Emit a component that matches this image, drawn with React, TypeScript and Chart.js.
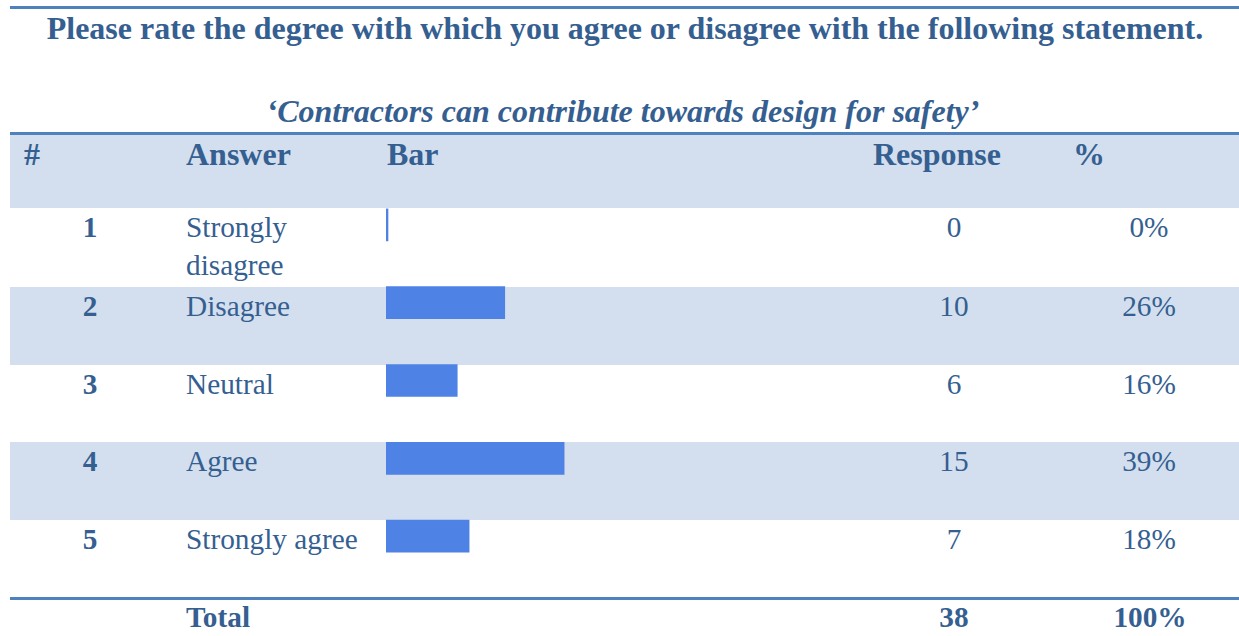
import React, { useEffect, useRef } from "react";
import { Chart, registerables } from "chart.js";

Chart.register(...registerables);

const title = "Please rate the degree with which you agree or disagree with the following statement.";
const subtitle = "\u2018Contractors can contribute towards design for safety\u2019";
const headers = ["#", "Answer", "Bar", "Response", "%"];
const ranks = ["1", "2", "3", "4", "5"];
const answers = ["Strongly disagree", "Disagree", "Neutral", "Agree", "Strongly agree"];
const responses = [0, 10, 6, 15, 7];
const percents = ["0%", "26%", "16%", "39%", "18%"];
const totalLabel = "Total";
const totalResponses = "38";
const totalPercent = "100%";

const TEXT = "#365F91";
const LINE = "#4F81BD";
const BAND = "#D3DFEE";
const BAR = "#4E82E5";
const FONT = '"Liberation Serif", "Times New Roman", serif';

const rowTops = [208, 287, 365, 442, 520];
const rowH = 77.8;

function BarChart() {
  const ref = useRef<HTMLCanvasElement | null>(null);
  useEffect(() => {
    if (!ref.current) return;
    const chart = new Chart(ref.current, {
      type: "bar",
      data: {
        labels: answers,
        datasets: [
          {
            data: responses,
            backgroundColor: BAR,
            borderWidth: 0,
            barThickness: 32,
            minBarLength: 2,
            categoryPercentage: 1,
            barPercentage: 1,
          },
        ],
      },
      options: {
        indexAxis: "y",
        animation: false,
        responsive: false,
        events: [],
        layout: { padding: { left: 6, right: 0, top: 0, bottom: 0 } },
        plugins: { legend: { display: false }, tooltip: { enabled: false }, title: { display: false } },
        scales: {
          x: { display: false, min: 0, max: 40 },
          y: { display: false },
        },
      },
    });
    return () => chart.destroy();
  }, []);
  const h = Math.round(rowH * 5);
  return (
    <canvas
      ref={ref}
      width={481}
      height={h}
      style={{ position: "absolute", left: 380, top: 209 - (rowH - 32) / 2, width: 481, height: h }}
    />
  );
}

function T(props: {
  x: number;
  top: number;
  size: number;
  bold?: boolean;
  italic?: boolean;
  align?: "left" | "center";
  width?: number;
  children: React.ReactNode;
}) {
  const { x, top, size, bold, italic, align = "left", width } = props;
  const style: React.CSSProperties = {
    position: "absolute",
    top,
    fontFamily: FONT,
    fontSize: size,
    fontWeight: bold ? 700 : 400,
    fontStyle: italic ? "italic" : "normal",
    color: TEXT,
    lineHeight: "38px",
    whiteSpace: width ? "normal" : "nowrap",
  };
  if (align === "center") {
    style.left = x - 1000;
    style.width = 2000;
    style.textAlign = "center";
  } else {
    style.left = x;
    if (width) style.width = width;
  }
  return <div style={style}>{props.children}</div>;
}

export default function App() {
  const headerX = [24, 186, 387, 873, 1073];
  return (
    <div
      style={{
        position: "absolute",
        left: 0,
        top: 0,
        width: 1239,
        height: 636,
        background: "#fff",
        overflow: "hidden",
      }}
    >
      <div style={{ position: "absolute", left: 10, top: 6, width: 1229, height: 3, background: LINE }} />
      <T x={625} top={9} size={32} bold align="center">
        {title}
      </T>
      <T x={623} top={92} size={32} bold italic align="center">
        {subtitle}
      </T>
      <div style={{ position: "absolute", left: 10, top: 132, width: 1229, height: 3, background: LINE }} />
      <div style={{ position: "absolute", left: 10, top: 135, width: 1229, height: 73, background: BAND }} />
      {rowTops.map((t, i) =>
        i % 2 === 1 ? (
          <div
            key={"b" + i}
            style={{ position: "absolute", left: 10, top: t, width: 1229, height: rowH, background: BAND }}
          />
        ) : null
      )}
      <div style={{ position: "absolute", left: 10, top: 597, width: 1229, height: 3, background: LINE }} />
      {headers.map((h, i) => (
        <T key={"h" + i} x={headerX[i]} top={135} size={32} bold>
          {h}
        </T>
      ))}
      {rowTops.map((t, i) => (
        <React.Fragment key={"r" + i}>
          <T x={90} top={t} size={29.3} bold align="center">
            {ranks[i]}
          </T>
          <T x={186} top={t} size={29.3} width={190}>
            {answers[i]}
          </T>
          <T x={954} top={t} size={29.3} align="center">
            {String(responses[i])}
          </T>
          <T x={1149} top={t} size={29.3} align="center">
            {percents[i]}
          </T>
        </React.Fragment>
      ))}
      <T x={186} top={598} size={29.3} bold>
        {totalLabel}
      </T>
      <T x={954} top={598} size={29.3} bold align="center">
        {totalResponses}
      </T>
      <T x={1150} top={598} size={29.3} bold align="center">
        {totalPercent}
      </T>
      <BarChart />
    </div>
  );
}
